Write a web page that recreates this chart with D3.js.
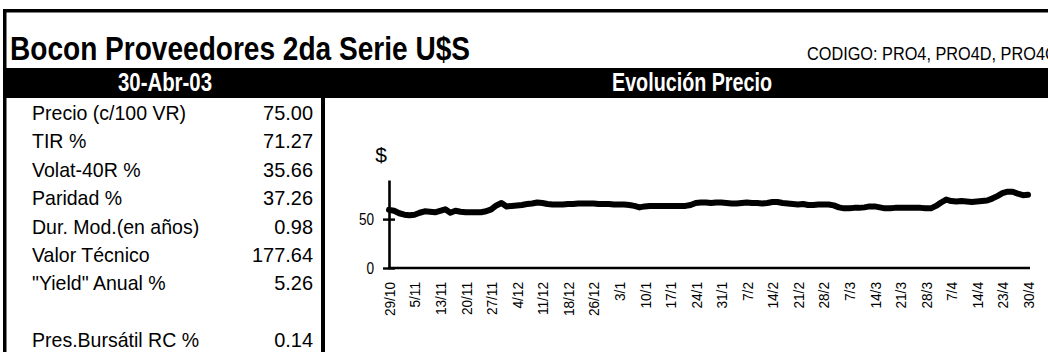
<!DOCTYPE html>
<html>
<head>
<meta charset="utf-8">
<script src="https://cdn.jsdelivr.net/npm/d3@7/dist/d3.min.js"></script>
<style>
  html, body { margin: 0; padding: 0; background: #fff; overflow: hidden; }
  svg { display: block; }
  text { font-family: "Liberation Sans", Arial, sans-serif; fill: #000; }
</style>
</head>
<body>
<svg id="chart" width="1048" height="352"></svg>
<script>
// Sheet header
const title = "Bocon Proveedores 2da Serie U$S";
const codeLine = "CODIGO: PRO4, PRO4D, PRO4C";
const dateHeader = "30-Abr-03";
const chartHeader = "Evolución Precio";
const unitLabel = "$";

// Indicator table
const rowLabels = ["Precio (c/100 VR)", "TIR %", "Volat-40R %", "Paridad %", "Dur. Mod.(en años)",
                   "Valor Técnico", "\"Yield\" Anual %", "", "Pres.Bursátil RC %"];
const rowValues = ["75.00", "71.27", "35.66", "37.26", "0.98", "177.64", "5.26", "", "0.14"];

// Price series, one value per trading day (29/10 .. 30/4)
const prices = [
  59.5, 58.5, 56, 54.5, 54, 54.5, 56.5, 58, 57.5, 57,
  58.5, 60, 56.5, 58.5, 57.5, 57, 57, 57, 57, 58,
  60, 64, 66.5, 63, 63.5, 64, 64.5, 65.5, 66, 67,
  66.5, 65.5, 65, 65, 65, 65.5, 65.5, 66, 66, 66,
  66, 65.5, 65.5, 65.5, 65, 65, 65, 64.5, 63.5, 62,
  63, 63.5, 63.5, 63.5, 63.5, 63.5, 63.5, 63.5, 63.5, 64.5,
  66.5, 67, 67, 66.5, 67, 67, 66.5, 66, 66, 66.5,
  67, 66.5, 66.5, 66, 66.5, 67.5, 67.5, 66.5, 66, 65.5,
  65, 65.5, 64.5, 64.5, 65, 65, 65, 64, 62, 61,
  61, 61.5, 61.5, 62, 63, 63, 62, 61, 61, 61.5,
  61.5, 61.5, 61.5, 61.5, 61.5, 61, 61, 63.5, 67, 70,
  68.5, 68, 68.5, 68, 67.5, 68, 68.5, 69, 71, 73.5,
  76.5, 78, 78, 76, 74.5, 75
];

// Category labels, shown every fifth trading day
const tickLabels = ["29/10", "5/11", "13/11", "20/11", "27/11", "4/12", "11/12", "18/12", "26/12",
                    "3/1", "10/1", "17/1", "24/1", "31/1", "7/2", "14/2", "21/2", "28/2",
                    "7/3", "14/3", "21/3", "28/3", "7/4", "14/4", "23/4", "30/4"];
const yTicks = [0, 50];
const labelStep = 5;

const svg = d3.select("#chart");

// Condense text horizontally (narrow face look)
function condense(sel, ratio) {
  sel.each(function () {
    const len = this.getComputedTextLength();
    if (len > 0) {
      this.setAttribute("textLength", (len * ratio).toFixed(1));
      this.setAttribute("lengthAdjust", "spacingAndGlyphs");
    }
  });
}
function fitWidth(sel, width) {
  sel.attr("textLength", width).attr("lengthAdjust", "spacingAndGlyphs");
}

// Frame: heavy top rule and left edge
svg.append("rect").attr("x", 3).attr("y", 9).attr("width", 1045).attr("height", 3.5).attr("fill", "#000");
svg.append("rect").attr("x", 3).attr("y", 9).attr("width", 3.5).attr("height", 343).attr("fill", "#000");

// Title row (the code line runs past the sheet edge)
svg.append("text").attr("x", 10).attr("y", 60)
  .style("font-size", "34px").style("font-weight", "bold").text(title)
  .call(fitWidth, 460);
svg.append("text").attr("x", 807).attr("y", 60)
  .style("font-size", "18.5px").text(codeLine)
  .call(condense, 0.88);

// Black header band
svg.append("rect").attr("x", 3).attr("y", 68).attr("width", 1045).attr("height", 30).attr("fill", "#000");
svg.append("text").attr("x", 165).attr("y", 91).attr("text-anchor", "middle")
  .style("font-size", "25px").style("font-weight", "bold").style("fill", "#fff").text(dateHeader)
  .call(fitWidth, 94);
svg.append("text").attr("x", 692).attr("y", 91).attr("text-anchor", "middle")
  .style("font-size", "25px").style("font-weight", "bold").style("fill", "#fff").text(chartHeader)
  .call(fitWidth, 160);

// Divider between the table and the chart
svg.append("rect").attr("x", 321).attr("y", 98).attr("width", 4).attr("height", 254).attr("fill", "#000");

// Table rows
const rowY = d3.scaleLinear().domain([0, 8]).range([120, 347]);
const rows = svg.append("g").selectAll("g").data(rowLabels).join("g")
  .attr("transform", (d, i) => `translate(0,${rowY(i)})`);
rows.append("text").attr("x", 32).style("font-size", "21px").text(d => d)
  .call(condense, 0.93);
rows.append("text").attr("x", 313).attr("text-anchor", "end").style("font-size", "21px")
  .text((d, i) => rowValues[i])
  .call(condense, 0.95);

// Chart scales
const x = d3.scaleLinear().domain([0, prices.length - 1]).range([389, 1028]);
const y = d3.scaleLinear().domain([0, 90]).range([268, 180]);

// Y axis with crossing ticks
const yAxis = svg.append("g").attr("transform", `translate(${x(0)},0)`)
  .call(d3.axisLeft(y).tickValues(yTicks).tickSize(6).tickSizeOuter(0).tickPadding(9));
yAxis.select(".domain").attr("stroke", "#000").attr("stroke-width", 2.6);
yAxis.selectAll(".tick line").attr("x1", 6).attr("stroke", "#000").attr("stroke-width", 2.4);
yAxis.selectAll(".tick text").style("font-size", "16px")
  .style("font-family", "'Liberation Sans', Arial, sans-serif")
  .call(condense, 0.85);

// X axis with vertical date labels
const tickIdx = tickLabels.map((d, i) => i * labelStep);
const xAxis = svg.append("g").attr("transform", `translate(0,${y(0)})`)
  .call(d3.axisBottom(x).tickValues(tickIdx).tickFormat((d, i) => tickLabels[i])
    .tickSize(0).tickSizeOuter(0));
xAxis.select(".domain").attr("stroke", "#000").attr("stroke-width", 2.6)
  .attr("d", `M${x(0) - 1},0H${x(prices.length - 1) + 2}`);
xAxis.selectAll(".tick text")
  .attr("transform", "rotate(-90)")
  .attr("text-anchor", "end")
  .attr("x", -14).attr("y", 0).attr("dy", "0.35em")
  .style("font-size", "15.5px")
  .style("font-family", "'Liberation Sans', Arial, sans-serif")
  .call(condense, 0.88);

// Unit label
svg.append("text").attr("x", 381).attr("y", 162).attr("text-anchor", "middle")
  .style("font-size", "21px").text(unitLabel);

// Price line
svg.append("path").datum(prices)
  .attr("fill", "none").attr("stroke", "#000").attr("stroke-width", 6)
  .attr("stroke-linejoin", "round").attr("stroke-linecap", "round")
  .attr("d", d3.line().x((d, i) => x(i)).y(d => y(d)));
</script>
</body>
</html>
